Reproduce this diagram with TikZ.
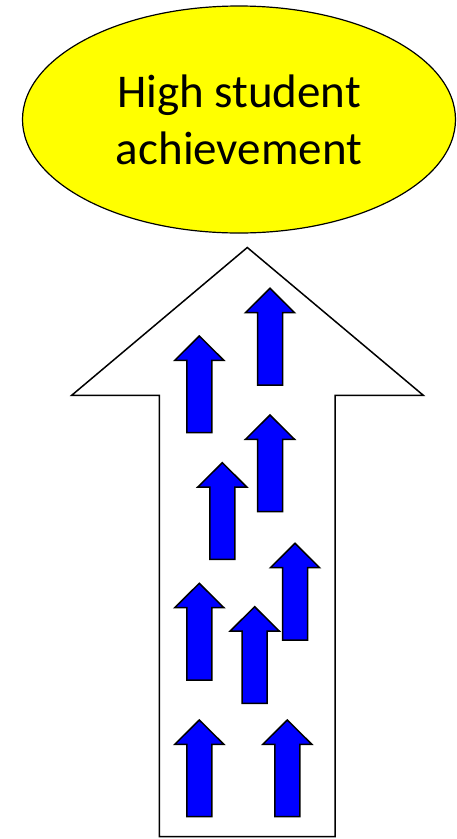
\documentclass[tikz,border=0pt]{standalone}
\usepackage{fontspec}
\setmainfont{Carlito}
\usetikzlibrary{shapes,positioning,calc}
\definecolor{goalyellow}{RGB}{255,255,0}
\definecolor{stepblue}{RGB}{0,0,255}

\begin{document}
\begin{tikzpicture}[
    x=1pt,y=-1pt,
    goal/.style={ellipse,draw,line width=1.2pt,fill=goalyellow,minimum width=433pt,minimum height=227pt,inner sep=0pt,align=center,font=\fontsize{47}{57}\selectfont},
    bigarrow/.style={draw,line width=1.5pt,fill=white,line join=miter},
    smallarrow/.style={draw,line width=1.5pt,fill=stepblue,line join=miter}
]
    \useasboundingbox (0,0) rectangle (456,839);

    % Goal at the top
    \node[goal] (goal) at (239,119.5) {High student\\achievement};

    % Large outline arrow
    \draw[bigarrow] (247.3,247.5) -- (423.3,395.3) -- (335,395.3) -- (335,836.5)
        -- (159.3,836.5) -- (159.3,395.3) -- (71.7,395.3) -- cycle;

    % Small blue arrows (tip positions)
    \foreach \x/\y in {270/288.3,199.3/336,270/415,222.3/462.7,295/543.3,199.3/583.3,254.7/606.7,199.3/720,287.3/720} {
        \draw[smallarrow] (\x,\y) -- ++(24.6,24.4) -- ++(-12.1,0) -- ++(0,72.3)
            -- ++(-25,0) -- ++(0,-72.3) -- ++(-12.1,0) -- cycle;
    }
\end{tikzpicture}
\end{document}
